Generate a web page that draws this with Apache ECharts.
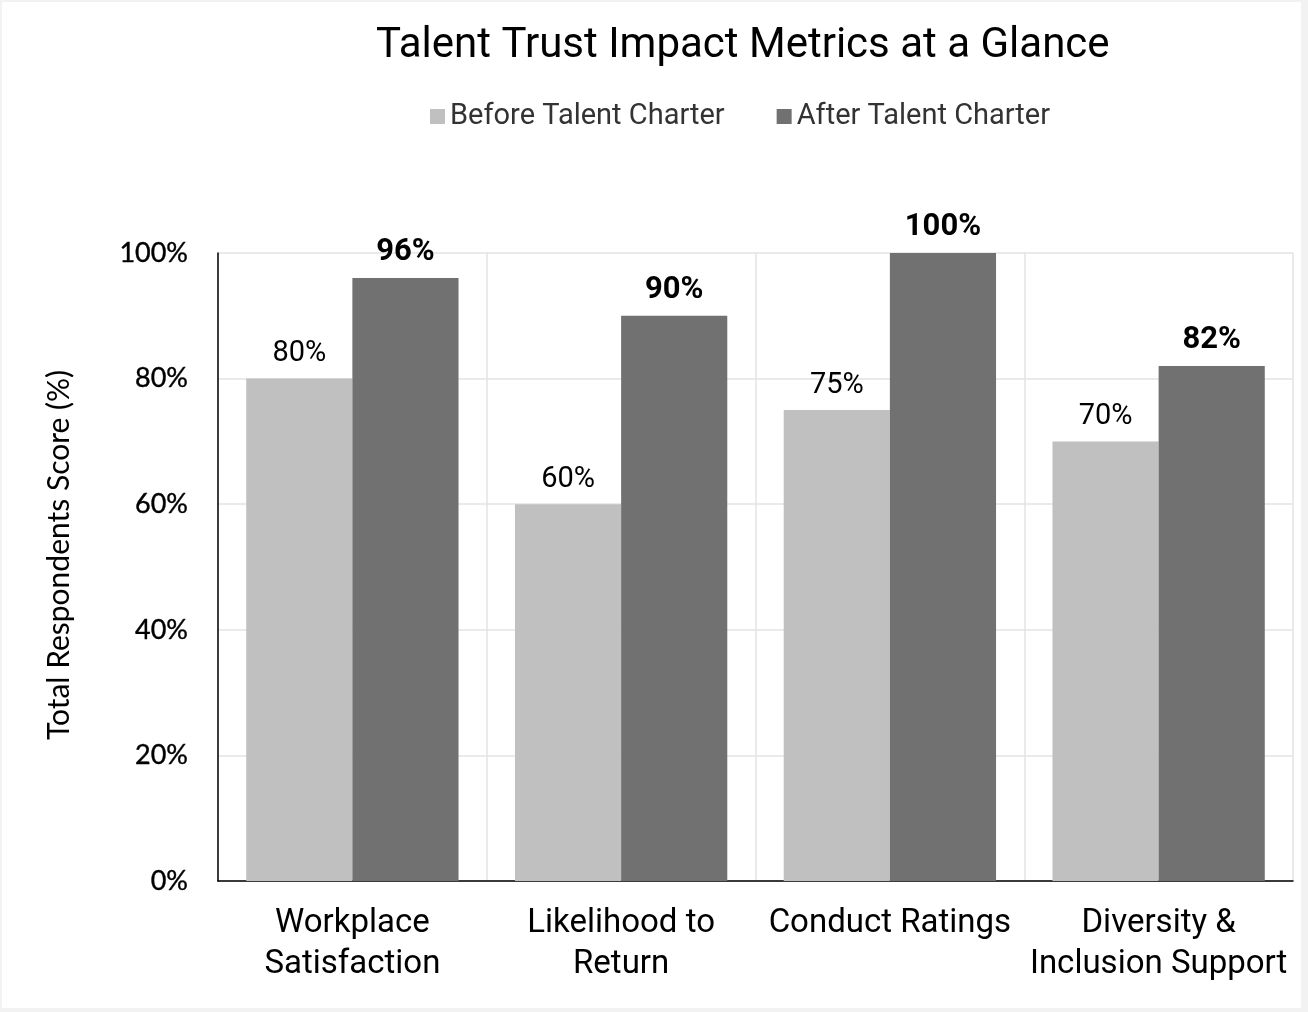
<!DOCTYPE html>
<html>
<head>
<meta charset="utf-8">
<script src="https://cdn.jsdelivr.net/npm/echarts@6/dist/echarts.min.js"></script>
<style>
html,body{margin:0;padding:0;background:#f2f2f2;}
#card{position:absolute;left:2px;top:2px;width:1299px;height:1006px;background:#fff;}
#chart{width:1308px;height:1012px;position:absolute;left:-2px;top:-2px;}
</style>
</head>
<body>
<div id="card"><div id="chart"></div></div>
<script>
const categories = ["Workplace Satisfaction", "Likelihood to Return", "Conduct Ratings", "Diversity & Inclusion Support"];
const tickLabels = ["Workplace\nSatisfaction", "Likelihood to\nReturn", "Conduct Ratings", "Diversity &\nInclusion Support"];
const seriesNames = ["Before Talent Charter", "After Talent Charter"];
const beforeValues = [80, 60, 75, 70];
const afterValues = [96, 90, 100, 82];
const yTicks = [0, 20, 40, 60, 80, 100];

const chart = echarts.init(document.getElementById('chart'));
chart.setOption({
  backgroundColor: 'transparent',
  animation: false,
  title: {
    text: 'Talent Trust Impact Metrics at a Glance',
    left: 371, top: 20,
    textStyle: {fontFamily: 'Roboto', fontWeight: 'normal', fontSize: 42, color: '#000'}
  },
  legend: {
    data: seriesNames,
    left: 425, top: 97,
    itemWidth: 15, itemHeight: 15, itemGap: 52,
    icon: 'rect',
    textStyle: {fontFamily: 'Roboto', fontSize: 29, color: '#333'}
  },
  grid: {left: 218, right: 15, top: 253, bottom: 131, containLabel: false},
  xAxis: {
    type: 'category',
    data: categories,
    axisLine: {lineStyle: {color: '#000', width: 1.5}},
    axisTick: {show: false},
    splitLine: {show: true, lineStyle: {color: '#e3e3e3', width: 1.5}},
    axisLabel: {
      interval: 0, margin: 22,
      fontFamily: 'Roboto', fontSize: 33, color: '#000', lineHeight: 41,
      formatter: (v, i) => tickLabels[i]
    }
  },
  yAxis: {
    type: 'value', min: 0, max: 100, interval: 20,
    name: 'Total Respondents Score (%)',
    nameLocation: 'middle', nameGap: 144, nameRotate: 90,
    nameTextStyle: {fontFamily: 'Lato', fontSize: 30, color: '#000', padding: [0, 0, 0, 24]},
    axisLine: {show: true, lineStyle: {color: '#000', width: 1.5}},
    axisTick: {show: false},
    splitLine: {lineStyle: {color: '#e3e3e3', width: 1.5}},
    axisLabel: {
      margin: 30, fontFamily: 'Lato', fontSize: 27, color: '#000',
      textBorderColor: '#000', textBorderWidth: 0.4,
      formatter: v => yTicks.includes(v) ? v + '%' : ''
    }
  },
  series: [
    {
      name: seriesNames[0], type: 'bar', data: beforeValues,
      barGap: '0%', barCategoryGap: '21%',
      itemStyle: {color: '#c0c0c0'},
      label: {show: true, position: 'top', distance: 10, formatter: p => p.value + '%',
        fontFamily: 'Roboto', fontSize: 29, color: '#000'}
    },
    {
      name: seriesNames[1], type: 'bar', data: afterValues,
      barGap: '0%', barCategoryGap: '21%',
      itemStyle: {color: '#717171'},
      label: {show: true, position: 'top', distance: 10, formatter: p => p.value + '%',
        fontFamily: 'Roboto', fontWeight: 'bold', fontSize: 31, color: '#000'}
    }
  ]
});
</script>
</body>
</html>
